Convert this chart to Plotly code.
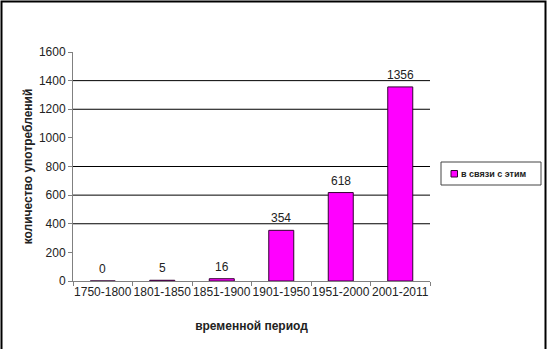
import plotly.graph_objects as go

categories = ["1750-1800", "1801-1850", "1851-1900", "1901-1950", "1951-2000", "2001-2011"]
values = [0, 5, 16, 354, 618, 1356]
series_name = "в связи с этим"
y_ticks = [0, 200, 400, 600, 800, 1000, 1200, 1400, 1600]
grid_values = [400, 600, 800, 1200, 1400]

W, H = 547, 349
L, R, T, B = 73, 117, 52, 68
pw, ph = W - L - R, H - T - B
BAR_COLOR = "#FF00FF"
EDGE = "#330033"
FONT = "Liberation Sans, Arial"

def px_x(p):
    return (p - L) / pw

def px_y(p):
    return (H - B - p) / ph

fig = go.Figure()
fig.add_trace(go.Bar(
    x=categories, y=values, name=series_name,
    marker=dict(color=BAR_COLOR, line=dict(color=EDGE, width=1)),
    showlegend=False, hoverinfo="skip",
))

shapes = []
for g in grid_values:
    shapes.append(dict(type="line", xref="paper", yref="y", x0=0, x1=1, y0=g, y1=g,
                       line=dict(color="black", width=1), layer="below"))
# outer frame
shapes.append(dict(type="rect", xref="paper", yref="paper",
                   x0=px_x(1.5), x1=px_x(545.5), y0=px_y(360), y1=px_y(1.5),
                   line=dict(color="black", width=2), fillcolor="rgba(0,0,0,0)"))
# legend box
shapes.append(dict(type="rect", xref="paper", yref="paper",
                   x0=px_x(441), x1=px_x(541), y0=px_y(185), y1=px_y(162),
                   line=dict(color="#444444", width=1), fillcolor="white"))
shapes.append(dict(type="rect", xref="paper", yref="paper",
                   x0=px_x(451), x1=px_x(457.5), y0=px_y(177), y1=px_y(170.5),
                   line=dict(color=EDGE, width=1), fillcolor=BAR_COLOR))

annotations = [dict(xref="paper", yref="paper", x=px_x(458.5), y=px_y(173.7),
                    xanchor="left", yanchor="middle", showarrow=False,
                    text="<b>" + series_name + "</b>",
                    font=dict(family=FONT, size=9, color="#222222"))]
# data labels
for c, v in zip(categories, values):
    annotations.append(dict(xref="x", yref="y", x=c, y=v, yanchor="bottom", yshift=3,
                            showarrow=False, text=str(v),
                            font=dict(family=FONT, size=12, color="#222222")))

fig.update_layout(
    width=W, height=H,
    margin=dict(l=L, r=R, t=T, b=B, autoexpand=False),
    paper_bgcolor="white", plot_bgcolor="white",
    bargap=0.58,
    shapes=shapes, annotations=annotations,
    font=dict(family=FONT, size=12, color="#222222"),
    xaxis=dict(
        type="category", showline=True, linecolor="#808080", linewidth=1,
        ticks="outside", tickson="boundaries", ticklen=4, tickcolor="#808080",
        showgrid=False, tickangle=0, automargin=False,
        tickfont=dict(size=12, color="#222222"),
        title=dict(text="<b>временной период</b>", font=dict(size=12, color="#222222"), standoff=23),
    ),
    yaxis=dict(
        range=[0, 1600], tickvals=y_ticks, showline=True, linecolor="#808080", linewidth=1,
        ticks="outside", ticklen=4, tickcolor="#808080", showgrid=False, zeroline=False,
        automargin=False,
        tickfont=dict(size=12, color="#222222"),
        title=dict(text="<b>количество употреблений</b>", font=dict(size=12, color="#222222"), standoff=3),
    ),
    showlegend=False,
)
fig.write_html("out.html", config={"displayModeBar": False},
               post_script="document.body.style.margin='0';")
